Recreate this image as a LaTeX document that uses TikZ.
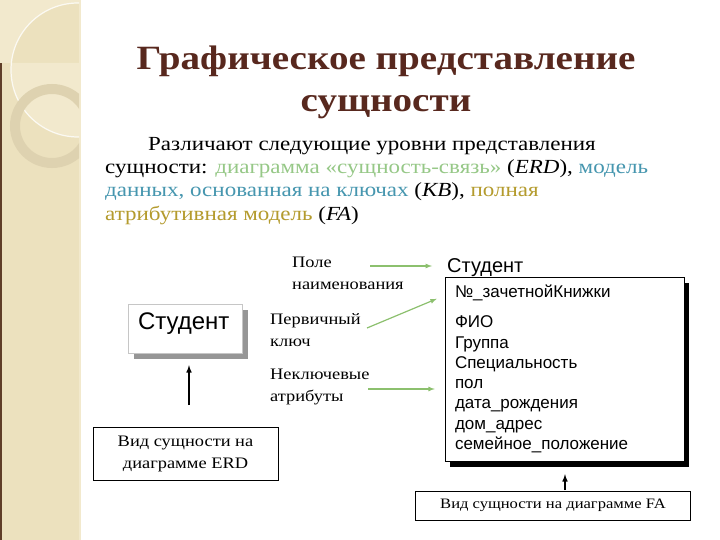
\documentclass[tikz,border=0pt]{standalone}
\usepackage{fontspec}
\setmainfont{Liberation Serif}[FakeStretch=1.15]
\setsansfont{Liberation Sans}
\newfontfamily\fliesstext{Liberation Serif}[FakeStretch=1.15]
\usetikzlibrary{shadows}
\definecolor{folie-beige}{RGB}{236,225,190}
\definecolor{folie-hell}{RGB}{242,233,205}
\definecolor{folie-ring}{RGB}{222,210,176}
\definecolor{folie-braun}{RGB}{95,62,40}
\definecolor{titel-braun}{RGB}{88,40,30}
\definecolor{text-gruen}{RGB}{150,200,135}
\definecolor{text-tuerkis}{RGB}{70,150,175}
\definecolor{text-oliv}{RGB}{180,155,45}
\definecolor{pfeil-gruen}{RGB}{140,192,110}
\definecolor{schatten-grau}{RGB}{150,150,150}

\begin{document}
\begin{tikzpicture}[x=1pt,y=-1pt,
  erdbox/.style={draw=gray!45, fill=white, minimum width=114pt, minimum height=49pt,
    text width=94pt, inner xsep=10pt, align=left, text height=16pt, text depth=14pt,
    font=\sffamily\fontsize{24}{24}\selectfont,
    drop shadow={shadow xshift=6pt, shadow yshift=-6pt, fill=schatten-grau, opacity=1}},
  fabox/.style={draw, thin, fill=white, minimum width=239pt, minimum height=184pt,
    text width=219pt, inner xsep=10pt, align=left,
    font=\sffamily\fontsize{17}{20.3}\selectfont,
    drop shadow={shadow xshift=5pt, shadow yshift=-6pt, fill=black, opacity=1}},
  beschriftung/.style={anchor=north west, inner sep=0pt, align=left,
    font=\fliesstext\fontsize{16}{22}\selectfont},
  ansichtbox/.style={draw, thin, align=center, font=\fliesstext\fontsize{16}{22}\selectfont},
  gruenpfeil/.style={pfeil-gruen, line width=1.2pt, ->, >=latex},
  schwarzpfeil/.style={black, line width=1.5pt, ->, >=latex}]
\useasboundingbox (0,0) rectangle (720,540);

%Hintergrund:
\fill[white] (0,0) rectangle (720,540);
\fill[folie-beige] (0,0) rectangle (79,540);
\fill[folie-hell] (79,0) rectangle (81,540);
\begin{scope}
\clip (0,0) rectangle (79,540);
\fill[folie-hell, even odd rule] (0,0) rectangle (79,63) (78,70) circle (67);
\draw[white, line width=1.2pt, opacity=.8] (78,70) circle (67);
\draw[folie-ring, line width=10pt] (52,126) circle (37);
\end{scope}
\fill[folie-braun] (0,63) rectangle (2,540);

%Titel:
\node[align=center, text=titel-braun, font=\fliesstext\bfseries\fontsize{34}{42}\selectfont] (titel) at (386,82) {Графическое представление\\ сущности};

%Einleitung:
\node[anchor=north west, inner sep=0pt, align=left, font=\fliesstext\fontsize{20}{23.3}\selectfont] (einleitung) at (105,137)
  {\hspace*{43pt}Различают следующие уровни представления\\
  сущности: \textcolor{text-gruen}{диаграмма «сущность-связь»} (\textit{ERD}), \textcolor{text-tuerkis}{модель}\\
  \textcolor{text-tuerkis}{данных, основанная на ключах} (\textit{KB}), \textcolor{text-oliv}{полная}\\
  \textcolor{text-oliv}{атрибутивная модель} (\textit{FA})};

%ERD:
\node[erdbox] (erd) at (185,328.5) {Студент};
\node[ansichtbox, minimum width=185pt, minimum height=53pt] (erdansicht) at (185.5,453.5) {Вид сущности на\\ диаграмме ERD};
\coordinate (erdpfeil) at (189,405);
\draw[schwarzpfeil, shorten >=12pt] (erdpfeil) -- (erd.south -| erdpfeil);

%FA:
\node[anchor=base west, inner sep=0pt, font=\sffamily\fontsize{20}{20}\selectfont] (fakopf) at (447,272) {Студент};
\node[fabox] (fa) at (564.5,369) {№\_зачетнойКнижки\\[9.7pt] ФИО\\ Группа\\ Специальность\\ пол\\ дата\_рождения\\ дом\_адрес\\ семейное\_положение};
\node[ansichtbox, minimum width=275pt, minimum height=29pt, font=\fliesstext\fontsize{14.4}{18}\selectfont] (faansicht) at (553,505.5) {Вид сущности на диаграмме FA};
\coordinate (fapfeil) at (565,490);
\draw[schwarzpfeil, shorten >=13pt] (fapfeil) -- (fa.south -| fapfeil);

%Beschriftungen:
\node[beschriftung] (feldname) at (292,257) {Поле\\ наименования};
\node[beschriftung] (schluessel) at (270,313) {Первичный\\ ключ};
\node[beschriftung] (attribute) at (270,369) {Неключевые\\ атрибуты};
\coordinate (p1) at (370,266);
\coordinate (p2) at (367,328);
\coordinate (p3) at (368,389);
\draw[gruenpfeil, shorten >=15pt] (p1) -- (p1 -| fakopf.west);
\draw[gruenpfeil] (p2) -- ([xshift=-8pt,yshift=-22pt]fa.north west);
\draw[gruenpfeil, shorten >=10pt] (p3) -- (p3 -| fa.west);
\end{tikzpicture}
\end{document}
